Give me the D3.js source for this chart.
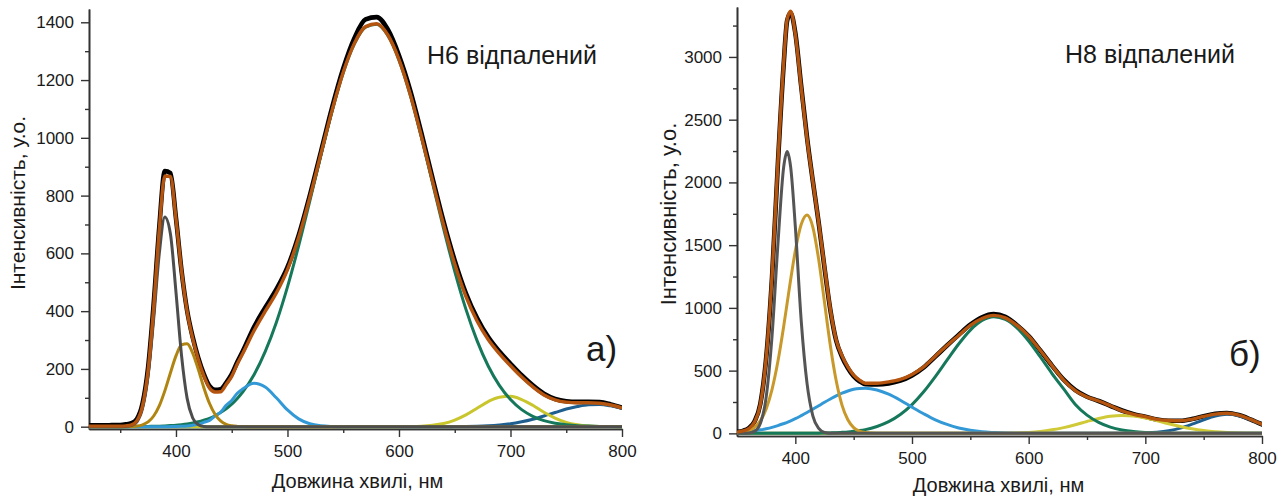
<!DOCTYPE html>
<html lang="uk">
<head>
<meta charset="UTF-8">
<title>ФЛ спектри H6 / H8</title>
<script src="https://cdn.jsdelivr.net/npm/d3@7"></script>
<style>
  body { margin: 0; background: #fff; }
  text { font-family: "Liberation Sans", Arial, sans-serif; fill: #1a1a1a; }
</style>
</head>
<body>
<svg id="chart" width="1285" height="497"></svg>
<script>
// ---- panel a) H6 : wavelength grid, nm
const wlA = [322, 330, 335, 340, 345, 350,
  355, 360, 365, 370, 375, 380, 385, 390, 395, 400,
  405, 410, 415, 420, 425, 430, 435, 440, 445, 450,
  455, 460, 470, 480, 490, 500, 510, 520, 530, 540,
  550, 560, 570, 580, 590, 600, 610, 620, 630, 640,
  650, 660, 670, 680, 690, 700, 710, 720, 730, 740,
  750, 760, 770, 780, 790, 800];

const dataA = [5, 5, 5, 5, 6, 6,
  8, 12, 27, 80, 205, 425, 690, 885, 878, 722,
  540, 402, 310, 238, 182, 141, 128, 130, 152, 182,
  224, 262, 345, 412, 475, 552, 662, 800, 952, 1105,
  1240, 1345, 1410, 1418, 1375, 1285, 1165, 1018, 862, 710,
  575, 462, 376, 310, 260, 218, 178, 143, 114, 96,
  88, 86, 86, 85, 77, 66];

const fitA = [2, 2, 2, 2, 2, 2,
  3, 6, 21, 72, 195, 413, 680, 868, 866, 719,
  539, 399, 305, 233, 176, 134, 120, 121, 146, 174,
  217, 254, 332, 399, 463, 544, 655, 793, 945, 1095,
  1227, 1327, 1385, 1395, 1356, 1271, 1152, 1007, 852, 699,
  563, 451, 366, 302, 253, 211, 172, 138, 110, 93,
  85, 83, 83, 81, 75, 65];

const grayA = [0, 0, 0, 0, 0, 0,
  0.5, 3.5, 17, 63, 176, 373, 598, 726, 668, 466,
  246, 98, 30, 7, 1, 0, 0, 0, 0, 0,
  0, 0, 0, 0, 0, 0, 0, 0, 0, 0,
  0, 0, 0, 0, 0, 0, 0, 0, 0, 0,
  0, 0, 0, 0, 0, 0, 0, 0, 0, 0,
  0, 0, 0, 0, 0, 0];

const goldA = [0, 0, 0, 0, 0, 0,
  0.2, 0.7, 2, 6.5, 16.5, 37, 72, 124, 186, 245,
  283, 287, 255, 199, 135, 81, 43, 20, 8, 3,
  1, 0.3, 0, 0, 0, 0, 0, 0, 0, 0,
  0, 0, 0, 0, 0, 0, 0, 0, 0, 0,
  0, 0, 0, 0, 0, 0, 0, 0, 0, 0,
  0, 0, 0, 0, 0, 0];

const blueA = [0, 0, 0, 0, 0, 0,
  0, 0, 0, 0, 0, 0, 0, 0, 0.25, 0.6,
  1.2, 2.2, 4.8, 7.9, 15, 22, 37, 50, 74, 91,
  116, 131, 150, 137, 100, 58, 27, 10, 3, 0.7,
  0, 0, 0, 0, 0, 0, 0, 0, 0, 0,
  0, 0, 0, 0, 0, 0, 0, 0, 0, 0,
  0, 0, 0, 0, 0, 0];

const greenA = [0, 0, 0, 0, 0, 0.1,
  0.2, 0.3, 0.5, 0.7, 1, 1.4, 1.9, 2.7, 3.8, 5.1,
  7.1, 9.6, 12.8, 17, 22.5, 29, 38, 49, 62, 78,
  98, 121, 180, 260, 361, 484, 626, 781, 940, 1092,
  1225, 1325, 1383, 1393, 1354, 1269, 1149, 1003, 845, 686,
  538, 407, 298, 210, 143, 94, 59, 36, 21, 12,
  7, 3.5, 2, 1, 0.4, 0.2];

const yellowA = [0, 0, 0, 0, 0, 0,
  0, 0, 0, 0, 0, 0, 0, 0, 0, 0,
  0, 0, 0, 0, 0, 0, 0, 0, 0, 0,
  0, 0, 0, 0, 0, 0, 0, 0, 0, 0,
  0, 0, 0, 0, 0, 0.2, 0.6, 1.8, 4.9, 11,
  23, 41, 64, 87, 102, 105, 94, 74, 50, 30,
  15, 7, 2.7, 0.9, 0.3, 0.1];

const navyA = [0, 0, 0, 0, 0, 0,
  0, 0, 0, 0, 0, 0, 0, 0, 0, 0,
  0, 0, 0, 0, 0, 0, 0, 0, 0, 0,
  0, 0, 0, 0, 0, 0, 0, 0, 0, 0,
  0, 0, 0, 0, 0, 0, 0, 0, 0, 0,
  0.3, 0.7, 1.6, 3.2, 5.9, 10, 17, 26, 37, 49,
  61, 70, 76, 77, 72, 63];

// ---- panel б) H8
const wlB = [350, 355, 360, 365, 370, 375, 380, 385, 390, 393,
  396, 400, 405, 410, 415, 420, 425, 430, 435, 440,
  445, 450, 455, 460, 470, 480, 490, 500, 510, 520,
  530, 540, 550, 560, 570, 580, 590, 600, 610, 620,
  630, 640, 650, 660, 670, 680, 690, 700, 710, 720,
  730, 740, 750, 760, 770, 780, 790, 800];

const dataB = [12, 20, 40, 95, 235, 600, 1240, 2140, 2940, 3290,
  3350, 3190, 2770, 2360, 2010, 1680, 1320, 985, 740, 610,
  520, 455, 415, 392, 390, 398, 420, 462, 525, 612,
  700, 785, 866, 925, 950, 928, 862, 775, 660, 540,
  428, 345, 292, 258, 220, 182, 152, 133, 110, 100,
  100, 114, 137, 156, 162, 146, 112, 72];

const fitB = [10, 19, 37, 90, 230, 600, 1250, 2150, 2950, 3300,
  3365, 3180, 2760, 2350, 2010, 1680, 1330, 990, 745, 620,
  530, 465, 425, 400, 400, 410, 430, 470, 530, 615,
  700, 780, 860, 915, 940, 920, 860, 775, 660, 540,
  425, 340, 290, 258, 220, 180, 152, 133, 112, 102,
  100, 112, 135, 153, 160, 145, 112, 72];

const grayB = [0, 0.2, 2, 16, 79, 289, 771, 1498, 2122, 2246,
  2122, 1647, 903, 400, 140, 40, 8, 1, 0, 0,
  0, 0, 0, 0, 0, 0, 0, 0, 0, 0,
  0, 0, 0, 0, 0, 0, 0, 0, 0, 0,
  0, 0, 0, 0, 0, 0, 0, 0, 0, 0,
  0, 0, 0, 0, 0, 0, 0, 0];

const goldB = [2.8, 7.9, 20, 47, 100, 195, 349, 570, 852, 1039,
  1226, 1455, 1664, 1740, 1644, 1387, 1044, 701, 421, 225,
  108, 46, 17, 6, 0.5, 0, 0, 0, 0, 0,
  0, 0, 0, 0, 0, 0, 0, 0, 0, 0,
  0, 0, 0, 0, 0, 0, 0, 0, 0, 0,
  0, 0, 0, 0, 0, 0, 0, 0];

const blueB = [7.8, 11, 15, 21, 28, 37, 48, 62, 78, 88,
  100, 117, 141, 166, 193, 220, 248, 274, 299, 320,
  338, 351, 358, 360, 346, 312, 264, 209, 156, 108,
  71, 43, 25, 13, 7, 3, 1.4, 0.6, 0, 0,
  0, 0, 0, 0, 0, 0, 0, 0, 0, 0,
  0, 0, 0, 0, 0, 0, 0, 0];

const greenB = [0, 0, 0, 0, 0, 0, 0, 0, 0.2, 0.3,
  0.4, 0.5, 0.8, 1, 1.3, 1.7, 2.5, 3.7, 5.5, 8,
  11, 16, 22, 30, 55, 93, 150, 229, 331, 452,
  583, 712, 823, 899, 930, 909, 841, 736, 609, 477,
  354, 230, 145, 88, 50, 27, 14, 7, 3, 1.5,
  0.6, 0.3, 0, 0, 0, 0, 0, 0];

const yellowB = [0, 0, 0, 0, 0, 0, 0, 0, 0, 0,
  0, 0, 0, 0, 0, 0, 0, 0, 0, 0,
  0, 0, 0, 0, 0, 0, 0, 0, 0, 0,
  0, 0, 0, 0, 0, 1.5, 3.6, 7.8, 15, 28,
  46, 69, 95, 119, 137, 143, 138, 123, 101, 77,
  55, 36, 22, 12, 6.3, 3, 1.4, 0.6];

const navyB = [0, 0, 0, 0, 0, 0, 0, 0, 0, 0,
  0, 0, 0, 0, 0, 0, 0, 0, 0, 0,
  0, 0, 0, 0, 0, 0, 0, 0, 0, 0,
  0, 0, 0, 0, 0, 0, 0, 0, 0, 0,
  0, 0, 0, 0, 0, 0.3, 0.9, 3.1, 8.7, 20.6,
  42, 73, 108, 138, 152, 141, 109, 71];

// ---- ticks
const xMajor = [400, 500, 600, 700, 800];
const xMinorA = [350, 450, 550, 650, 750];
const xMinorB = [450, 550, 650, 750];
const yMajorA = [0, 200, 400, 600, 800, 1000, 1200, 1400];
const yMinorA = [100, 300, 500, 700, 900, 1100, 1300];
const yMajorB = [0, 500, 1000, 1500, 2000, 2500, 3000];
const yMinorB = [250, 750, 1250, 1750, 2250, 2750, 3250];

const svg = d3.select('#chart');
const fmt = d3.format('d');

function drawPanel(p) {
  const x = d3.scaleLinear().domain(p.xDomain).range([p.left, p.right]);
  const y = d3.scaleLinear().domain(p.yDomain).range([p.bottom, p.top]);
  const g = svg.append('g');

  // axes
  const axisStyle = sel => {
    sel.select('.domain').attr('stroke', '#333').attr('stroke-width', 1.6);
    sel.selectAll('.tick line').attr('stroke', '#333').attr('stroke-width', 1.4);
    sel.selectAll('.tick text').attr('font-size', 17).attr('fill', '#1a1a1a')
      .attr('font-family', '"Liberation Sans", Arial, sans-serif');
  };
  g.append('g').attr('transform', `translate(0,${p.bottom})`)
    .call(d3.axisBottom(x).tickValues(p.xMinor).tickSize(4).tickSizeOuter(0).tickFormat(''))
    .call(axisStyle);
  g.append('g').attr('transform', `translate(0,${p.bottom})`)
    .call(d3.axisBottom(x).tickValues(xMajor).tickSize(8).tickSizeOuter(0).tickPadding(8).tickFormat(fmt))
    .call(axisStyle);
  g.append('g').attr('transform', `translate(${p.left},0)`)
    .call(d3.axisLeft(y).tickValues(p.yMinor).tickSize(4).tickSizeOuter(0).tickFormat(''))
    .call(axisStyle);
  g.append('g').attr('transform', `translate(${p.left},0)`)
    .call(d3.axisLeft(y).tickValues(p.yMajor).tickSize(8).tickSizeOuter(0).tickPadding(7).tickFormat(fmt))
    .call(axisStyle);

  const clipId = 'clip' + p.id;
  svg.append('clipPath').attr('id', clipId).append('rect')
    .attr('x', p.left).attr('y', p.top - 10)
    .attr('width', p.right - p.left).attr('height', p.bottom - p.top + 10);

  const line = d3.line()
    .x((d, i) => x(p.wl[i]))
    .y(d => y(d))
    .curve(d3.curveMonotoneX);

  const curves = g.append('g').attr('clip-path', `url(#${clipId})`)
    .attr('fill', 'none').attr('stroke-linejoin', 'round').attr('stroke-linecap', 'round');

  curves.append('path').attr('d', line(p.data)).attr('stroke', '#000').attr('stroke-width', 4.6);
  p.parts.forEach(s => {
    curves.append('path').attr('d', line(s.values)).attr('stroke', s.color).attr('stroke-width', 3);
  });
  curves.append('path').attr('d', line(p.fit)).attr('stroke', '#b4540f').attr('stroke-width', 3.4);

  // labels
  g.append('text').attr('x', (p.left + p.right) / 2 + p.xTitleShift).attr('y', p.xTitleY)
    .attr('text-anchor', 'middle').attr('font-size', 20).text('Довжина хвилі, нм');
  g.append('text')
    .attr('transform', `translate(${p.yTitleX},${p.yTitleY}) rotate(-90)`)
    .attr('text-anchor', 'middle').attr('dy', '0.35em').attr('font-size', p.yTitleSize)
    .text('Інтенсивність, у.о.');
  g.append('text').attr('x', p.nameX).attr('y', p.nameY).attr('font-size', 25).text(p.name);
  g.append('text').attr('x', p.tagX).attr('y', p.tagY).attr('font-size', 35).text(p.tag);
}

drawPanel({
  id: 'A', wl: wlA, data: dataA, fit: fitA,
  parts: [
    { values: navyA, color: '#1f5f8f' },
    { values: yellowA, color: '#c9c52c' },
    { values: greenA, color: '#16785a' },
    { values: blueA, color: '#3399d6' },
    { values: goldA, color: '#b08410' },
    { values: grayA, color: '#4d4d4d' }
  ],
  xDomain: [322, 800], yDomain: [-8, 1446],
  left: 89, right: 622, top: 9, bottom: 429,
  xMinor: xMinorA, yMajor: yMajorA, yMinor: yMinorA,
  xTitleShift: 2, xTitleY: 488, yTitleX: 18, yTitleY: 203, yTitleSize: 21,
  name: 'Н6 відпалений', nameX: 427, nameY: 64,
  tag: 'а)', tagX: 586, tagY: 361
});

drawPanel({
  id: 'B', wl: wlB, data: dataB, fit: fitB,
  parts: [
    { values: navyB, color: '#1f5f8f' },
    { values: yellowB, color: '#d0ca38' },
    { values: greenB, color: '#16785a' },
    { values: blueB, color: '#3399d6' },
    { values: goldB, color: '#c8992a' },
    { values: grayB, color: '#555555' }
  ],
  xDomain: [350, 800], yDomain: [-21, 3398],
  left: 737, right: 1262, top: 7, bottom: 436,
  xMinor: xMinorB, yMajor: yMajorB, yMinor: yMinorB,
  xTitleShift: -1, xTitleY: 492, yTitleX: 668, yTitleY: 214, yTitleSize: 22,
  name: 'Н8 відпалений', nameX: 1065, nameY: 63,
  tag: 'б)', tagX: 1229, tagY: 366
});
</script>
</body>
</html>
